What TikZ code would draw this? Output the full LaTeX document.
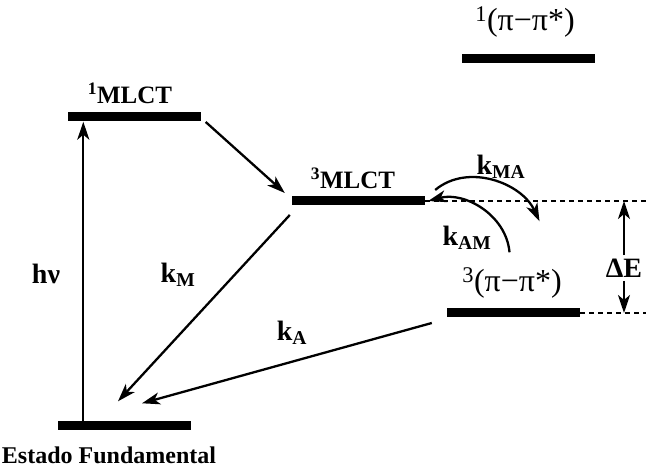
\documentclass[tikz,border=0pt]{standalone}
\usepackage{fontspec}
\setmainfont{Liberation Serif}
\usetikzlibrary{arrows.meta}

\begin{document}
\begin{tikzpicture}[x=1pt,y=1pt,>={Stealth[length=18pt,width=12pt,inset=5pt]},
    level/.style={fill,minimum width=133pt,minimum height=9pt,inner sep=0pt},
    lbl/.style={font=\fontsize{25}{29}\selectfont\bfseries},
    rate/.style={font=\fontsize{28}{32}\selectfont\bfseries},
    orb/.style={font=\fontsize{32}{36}\selectfont},
    trans/.style={->,line width=2.3pt},
    gap/.style={line width=1.3pt,dash pattern=on 5pt off 4pt}]
  \useasboundingbox (0,0) rectangle (646,470);
  \coordinate (edge) at (646,0);
  % energy levels
  \node[level] (g)  at (124,44) {};
  \node[level] (s1) at (134,353) {};
  \node[level] (s3) at (358.5,269) {};
  \node[level] (p1) at (528.5,411) {};
  \node[level] (t3) at (513.5,157) {};
  \node[lbl,font=\fontsize{24}{28}\selectfont\bfseries] (gl) at (109,15) {Estado Fundamental};
  \node[lbl] (s1l) at (130,377) {\textsuperscript{1}MLCT};
  \node[lbl] (s3l) at (353,292) {\textsuperscript{3}MLCT};
  \node[orb] (p1l) at (525,448) {\textsuperscript{1}(π−π*)};
  \node[orb] (t3l) at (512,187) {\textsuperscript{3}(π−π*)};
  % rate labels
  \node[rate] (hv)  at (46,196) {hν};
  \node[rate] (kM)  at (178,195) {k\textsubscript{M}};
  \node[rate] (kA)  at (292,137) {k\textsubscript{A}};
  \node[rate] (kMA) at (501,303) {k\textsubscript{MA}};
  \node[rate] (kAM) at (467,232) {k\textsubscript{AM}};
  \node[rate] (dE)  at (624,202) {ΔE};
  % transitions
  \draw[trans] ([xshift=26pt]g.north west) -- ([xshift=16pt]s1.south west);
  \draw[trans] ([shift={(5,-5)}]s1.east) -- ([shift={(-7,8)}]s3.west);
  \draw[trans] ([shift={(-2,-14)}]s3.west) -- ([shift={(-6,20)}]g.north);
  \draw[trans] ([shift={(-15,-10)}]t3.west) -- ([shift={(18,18)}]g.north);
  \draw[trans] ([shift={(10,11)}]s3.east) to[out=40,in=115] ([shift={(26,87)}]t3.north);
  \draw[trans] ([shift={(-4,56)}]t3.north) to[out=95,in=15] ([shift={(3,0)}]s3.east);
  % energy gap
  \draw[gap] (s3.east) -- (s3.east -| edge);
  \draw[gap] (t3.east) -- (t3.east -| edge);
  \draw[trans] (dE.north) -- (dE.north |- s3.east);
  \draw[trans] (dE.south) -- (dE.south |- t3.east);
\end{tikzpicture}
\end{document}
